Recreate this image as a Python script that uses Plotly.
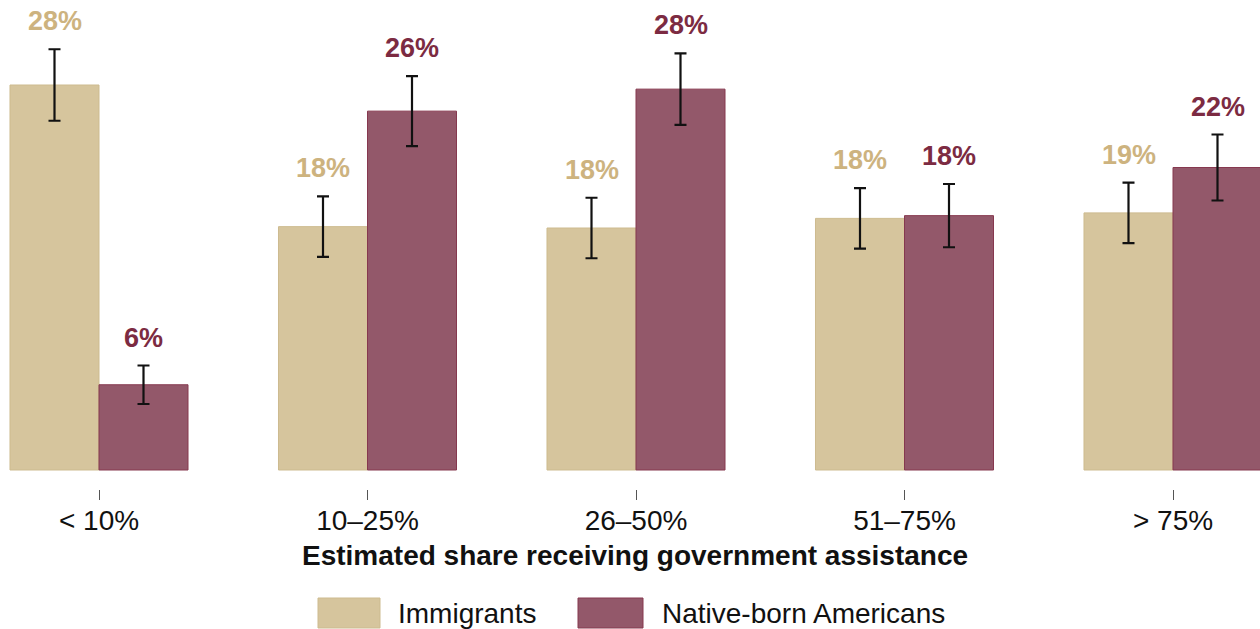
import plotly.graph_objects as go

# Share of respondents by estimated share receiving government assistance
categories = ["< 10%", "10\u201325%", "26\u201350%", "51\u201375%", "> 75%"]
immigrants = [28.0, 17.7, 17.6, 18.3, 18.7]
immigrants_err = [2.6, 2.2, 2.2, 2.2, 2.2]
native = [6.2, 26.1, 27.7, 18.5, 22.0]
native_err = [1.4, 2.55, 2.6, 2.3, 2.4]

series_names = ["Immigrants", "Native-born Americans"]
fill_colors = ["#D6C59D", "#93586A"]
edge_colors = ["#CDBB8F", "#86384F"]
label_colors = ["#CDB37F", "#7C2B42"]

FONT = "Liberation Sans, Arial, Helvetica, sans-serif"
W, H = 1260, 629
MB = 140
PLOT_H = H - MB

x_pos = list(range(len(categories)))

fig = go.Figure()
for vals, errs, name, fc, ec in zip(
    [immigrants, native], [immigrants_err, native_err], series_names, fill_colors, edge_colors
):
    fig.add_trace(
        go.Bar(
            x=x_pos,
            y=vals,
            name=name,
            marker=dict(color=fc, line=dict(color=ec, width=1)),
            error_y=dict(type="data", array=errs, visible=True,
                         color="#111111", thickness=2.2, width=6),
            showlegend=False,
        )
    )

# value labels above each error bar
bar_w = (1 - 0.337) / 2
for s, (vals, errs) in enumerate([(immigrants, immigrants_err), (native, native_err)]):
    offset = (s - 0.5) * bar_w
    for i, (v, e) in enumerate(zip(vals, errs)):
        fig.add_annotation(
            x=i + offset, y=v + e, xref="x", yref="y",
            text=f"<b>{round(v):d}%</b>", showarrow=False,
            yanchor="bottom", yshift=11,
            font=dict(family=FONT, size=27, color=label_colors[s]),
        )

# axis title
fig.add_annotation(
    x=635 / W, y=(PLOT_H - 555) / PLOT_H, xref="paper", yref="paper",
    text="<b>Estimated share receiving government assistance</b>",
    showarrow=False, xanchor="center", yanchor="middle",
    font=dict(family=FONT, size=28, color="#111111"),
)

# legend drawn as swatches + text
legend_items = [
    (318, 380, 396, series_names[0], 0),
    (578, 643, 660, series_names[1], 1),
]
for x0, x1, tx, name, k in legend_items:
    fig.add_shape(
        type="rect", xref="paper", yref="paper",
        x0=x0 / W, x1=x1 / W,
        y0=(PLOT_H - 628) / PLOT_H, y1=(PLOT_H - 598) / PLOT_H,
        fillcolor=fill_colors[k], line=dict(color=edge_colors[k], width=1),
    )
    fig.add_annotation(
        x=tx / W, y=(PLOT_H - 613) / PLOT_H, xref="paper", yref="paper",
        text=name, showarrow=False, xanchor="left", yanchor="middle",
        font=dict(family=FONT, size=28, color="#111111"),
    )

px_per_unit = 13.75
fig.update_layout(
    width=W, height=H,
    margin=dict(l=0, r=0, t=0, b=MB),
    barmode="group", bargap=0.337, bargroupgap=0,
    plot_bgcolor="white", paper_bgcolor="white",
    font=dict(family=FONT, color="#111111"),
    xaxis=dict(
        tickmode="array", tickvals=x_pos, ticktext=categories,
        range=[-99 / 268.5, (W - 99) / 268.5],
        ticks="outside", ticklen=10, tickwidth=1, tickcolor="#555555",
        ticklabelstandoff=-4,
        showline=False, showgrid=False, zeroline=False,
        tickfont=dict(family=FONT, size=28, color="#111111"),
    ),
    yaxis=dict(
        range=[-19 / px_per_unit, 470 / px_per_unit],
        visible=False, showgrid=False, zeroline=False,
    ),
)

fig.write_html("out.html")
